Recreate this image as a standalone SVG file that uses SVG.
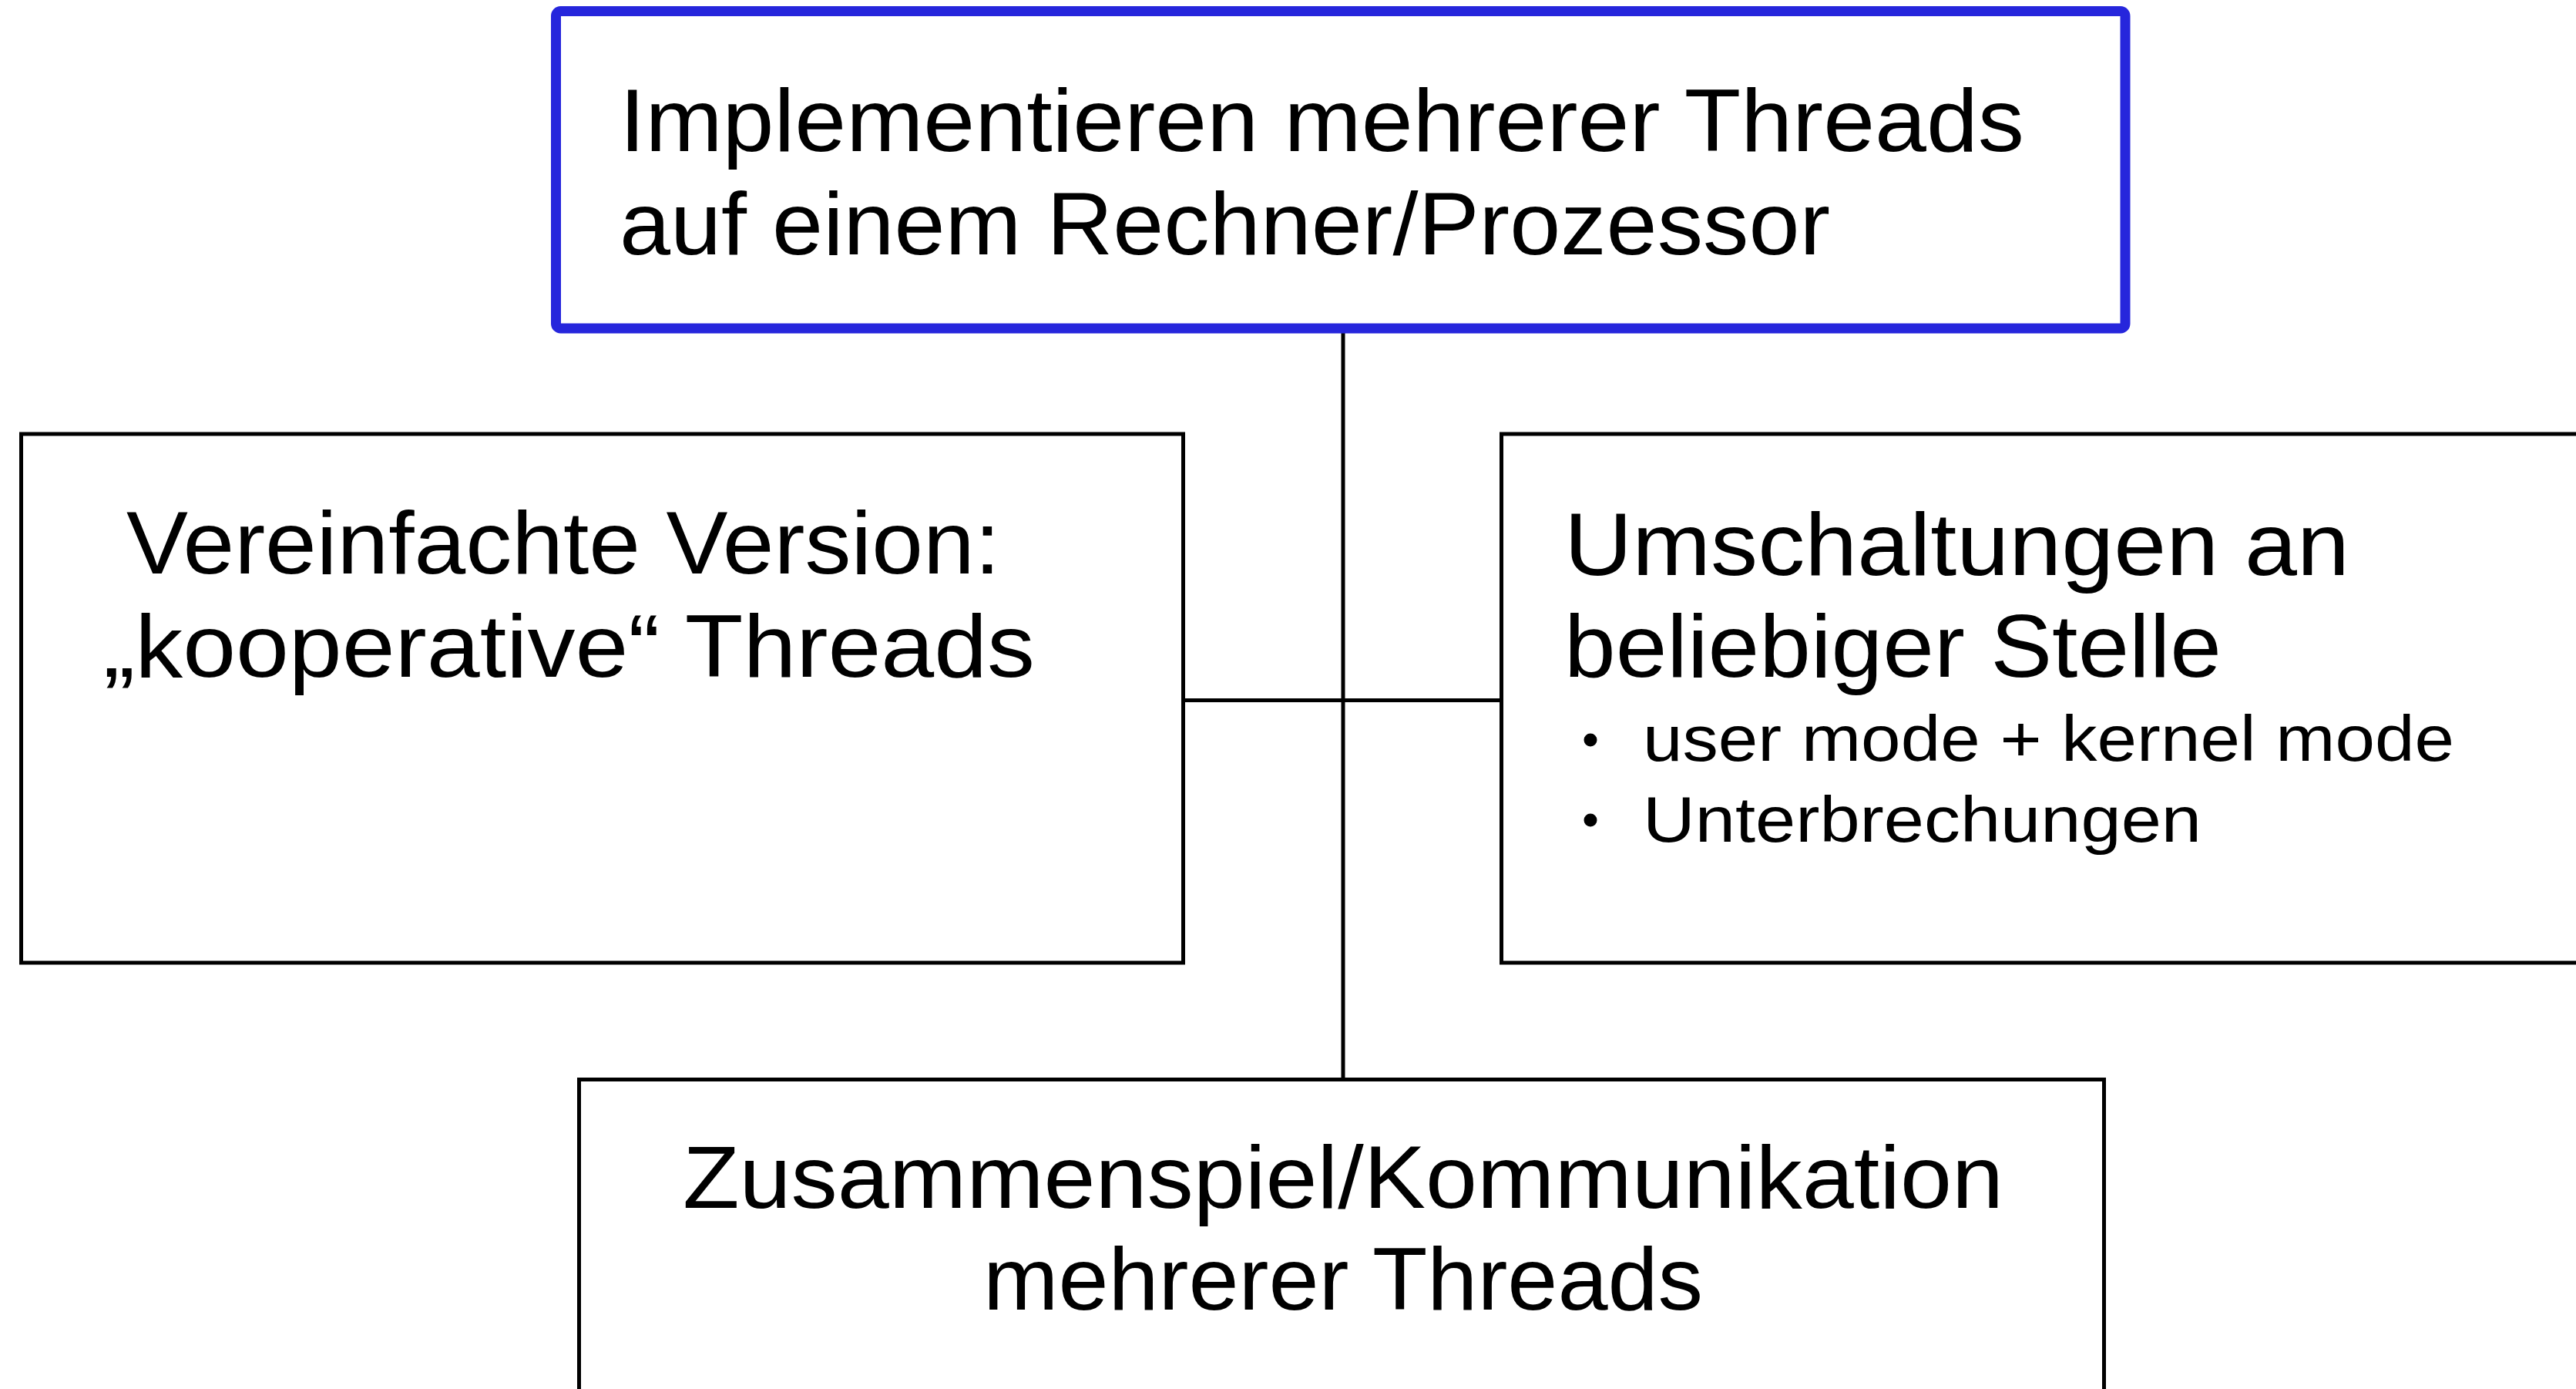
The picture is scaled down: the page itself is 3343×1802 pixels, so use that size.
<svg xmlns="http://www.w3.org/2000/svg" width="3343" height="1802" viewBox="0 0 3343 1802">
<style>
.box{fill:#ffffff;stroke:#000000;stroke-width:5}
.main{fill:#2626dc;}
.t{font-family:"Liberation Sans","DejaVu Sans",sans-serif;fill:#000000;font-size:115px}
.s{font-family:"Liberation Sans","DejaVu Sans",sans-serif;fill:#000000;font-size:84px}
.conn{stroke:#000000;stroke-width:5;fill:none}
</style>
<rect x="0" y="0" width="3343" height="1802" fill="#ffffff"/>
<g id="connectors">
<line class="conn" x1="1743" y1="426" x2="1743" y2="1401"/>
<line class="conn" x1="1535" y1="908.5" x2="1949" y2="908.5"/>
</g>
<g id="node-top">
<rect x="721.5" y="14.5" width="2036.5" height="411.5" rx="6" fill="#ffffff" stroke="#2626dc" stroke-width="13"/>
<text class="t" x="804" y="196" textLength="1823" lengthAdjust="spacingAndGlyphs">Implementieren mehrerer Threads</text>
<text class="t" x="804" y="330" textLength="1571" lengthAdjust="spacingAndGlyphs">auf einem Rechner/Prozessor</text>
</g>
<g id="node-left">
<rect class="box" x="27.5" y="563" width="1508" height="686"/>
<text class="t" x="164" y="744" textLength="1134" lengthAdjust="spacingAndGlyphs">Vereinfachte Version:</text>
<text class="t" x="134" y="878" textLength="1209" lengthAdjust="spacingAndGlyphs">„kooperative“ Threads</text>
</g>
<g id="node-right">
<rect class="box" x="1948.5" y="563" width="1500" height="686"/>
<text class="t" x="2030" y="746" textLength="1019" lengthAdjust="spacingAndGlyphs">Umschaltungen an</text>
<text class="t" x="2030" y="878" textLength="853" lengthAdjust="spacingAndGlyphs">beliebiger Stelle</text>
<circle cx="2064" cy="960" r="8.5" fill="#000000"/>
<text class="s" x="2132" y="987" textLength="1053" lengthAdjust="spacingAndGlyphs">user mode + kernel mode</text>
<circle cx="2064" cy="1064" r="8.5" fill="#000000"/>
<text class="s" x="2132" y="1092" textLength="725" lengthAdjust="spacingAndGlyphs">Unterbrechungen</text>
</g>
<g id="node-bottom">
<rect class="box" x="751.5" y="1400.5" width="1979" height="500"/>
<text class="t" x="1743" y="1567" text-anchor="middle" textLength="1714" lengthAdjust="spacingAndGlyphs">Zusammenspiel/Kommunikation</text>
<text class="t" x="1743" y="1699" text-anchor="middle" textLength="934" lengthAdjust="spacingAndGlyphs">mehrerer Threads</text>
</g>
</svg>
